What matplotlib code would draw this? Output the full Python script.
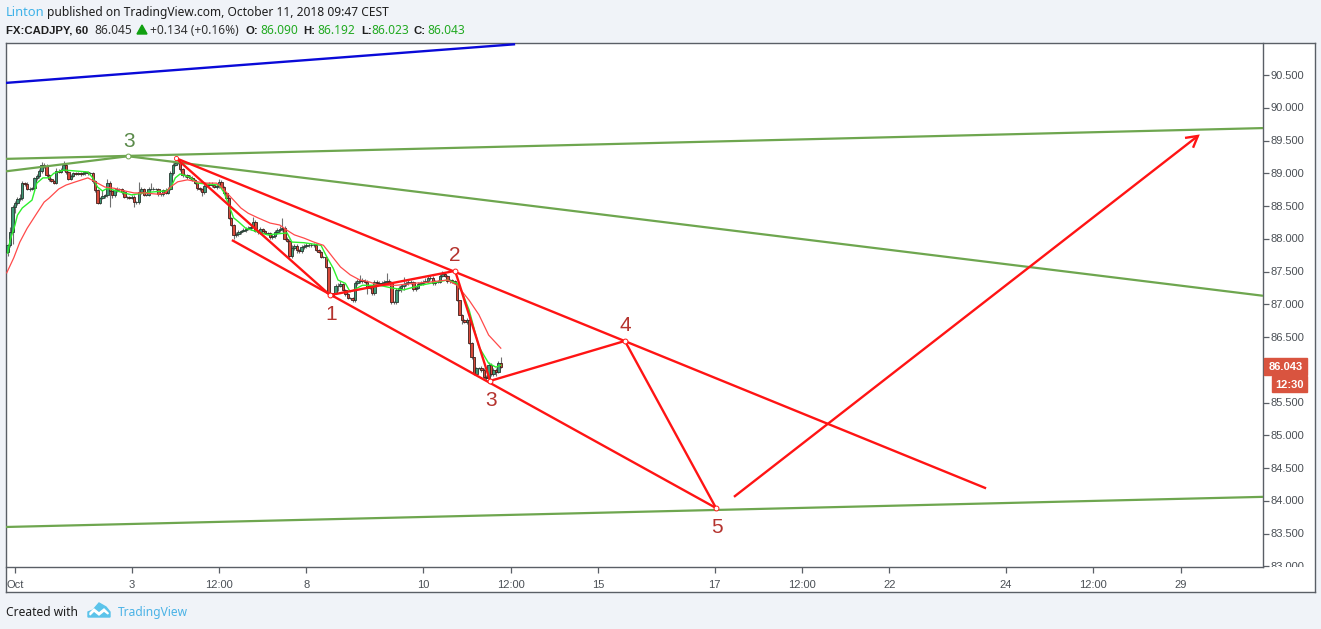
import matplotlib
matplotlib.use("Agg")
import matplotlib.pyplot as plt
import numpy as np
from matplotlib.patches import Rectangle, Polygon
from matplotlib.transforms import Bbox, TransformedBbox, ScaledTranslation

W, H = 1321, 629

closes = [87.90,88.10,88.48,88.55,88.61,88.62,88.85,88.84,88.76,88.76,
          88.77,88.93,88.96,89.03,89.13,89.11,88.97,88.91,88.88,88.85,
          89.03,89.02,89.05,89.13,89.02,88.91,88.96,89.00,88.99,89.00,
          88.99,89.00,89.02,89.00,89.00,88.88,88.74,88.55,88.62,88.65,
          88.67,88.85,88.73,88.67,88.74,88.76,88.76,88.71,88.64,88.64,
          88.62,88.64,88.56,88.56,88.71,88.76,88.67,88.67,88.76,88.76,
          88.76,88.76,88.68,88.68,88.74,88.70,88.76,89.00,89.13,89.16,
          89.16,89.06,88.97,88.97,88.94,88.93,88.90,88.85,88.77,88.76,
          88.71,88.81,88.82,88.84,88.82,88.79,88.81,88.87,88.79,88.70,
          88.62,88.32,88.21,88.06,88.07,88.10,88.12,88.13,88.15,88.16,
          88.18,88.26,88.12,88.10,88.15,88.12,88.09,88.09,88.03,88.04,
          88.10,88.13,88.15,88.16,88.00,87.97,87.74,87.86,87.89,87.83,
          87.81,87.87,87.89,87.90,87.90,87.90,87.90,87.83,87.80,87.72,
          87.72,87.57,87.17,87.14,87.17,87.28,87.28,87.31,87.22,87.16,
          87.10,87.10,87.06,87.32,87.35,87.37,87.35,87.34,87.25,87.28,
          87.17,87.34,87.32,87.31,87.32,87.34,87.35,87.34,87.03,87.03,
          87.22,87.25,87.28,87.31,87.32,87.34,87.34,87.23,87.25,87.31,
          87.32,87.34,87.35,87.40,87.40,87.32,87.34,87.34,87.43,87.46,
          87.43,87.35,87.37,87.35,87.32,87.06,86.84,86.76,86.73,86.76,
          86.41,86.19,85.94,86.03,86.03,86.00,85.89,85.87,86.07,85.94,
          86.00,85.97,86.10,86.04]
first_open = 87.80
wick_up = [2,8,4,3,3,6,3,2,2,3, 2,2,3,3,4,2,3,2,2,2, 5,3,3,6,3,1,3,2,2,2,
           2,3,2,2,2,2,2,2,2,10, 2,6,3,2,3,3,2,2,3,2, 2,3,3,2,15,3,2,2,3,9,
           3,2,2,2,2,3,3,3,3,5, 3,2,2,2,2,3,3,1,2,2, 2,2,2,2,3,2,3,5,2,1,
           2,2,1,2,3,3,2,3,3,3, 3,8,2,2,3,2,2,2,2,3, 3,3,4,16,4,2,2,4,3,3,
           2,3,3,3,3,3,4,3,2,2, 1,1,0,0,0,3,4,4,2,1, 1,1,1,3,3,8,3,3,3,2,
           2,3,3,3,3,3,12,3,2,2, 3,3,3,10,3,3,3,2,3,3, 3,3,5,5,5,3,3,3,3,5,
           3,2,2,2,2,2,1,1,1,3, 1,1,1,2,2,3,3,3,5,3, 2,2,3,9]
wick_down = [6,2,18,8,3,3,3,3,2,3, 2,4,3,3,2,3,2,3,2,2, 2,2,2,2,3,2,2,2,2,2,
             3,2,2,2,2,3,2,2,2,2, 2,3,24,4,3,3,3,2,2,3, 2,2,8,3,3,3,2,2,2,2,
             2,2,2,2,2,2,1,1,2,2, 2,3,3,2,2,2,2,2,3,3, 6,3,2,2,3,2,3,3,2,2,
             2,2,2,6,4,2,3,2,2,2, 2,2,2,3,3,2,2,3,3,3, 3,2,2,3,2,2,4,3,3,5,
             3,3,3,3,3,3,3,2,2,2, 2,2,2,3,3,2,8,2,2,3, 2,2,2,2,2,2,2,2,10,2,
             3,3,2,2,2,2,3,3,2,3, 2,2,6,6,3,3,3,2,2,2, 2,2,2,2,3,3,3,2,2,2,
             2,2,2,2,1,1,1,6,2,3, 2,2,2,1,2,3,4,4,2,3, 4,6,2,1]

slow_bar = [-0.4,2.5,5,8,12,15,17,21,24,28,33,37,40,44,47,52,56,62,65,67,70,74,78,82,86,88,91,93,96,99,
            103,108,112,115,118,122,126,130,134,137,141,145,149,153,160,167,174,181,185,190,194,198,203]
slow_val = [87.48,87.71,87.95,88.16,88.39,88.56,88.62,88.76,88.82,88.87,88.93,88.85,88.79,88.77,88.74,88.70,88.70,88.68,88.70,88.79,88.87,88.90,88.87,88.85,88.85,88.79,88.67,88.59,88.47,88.39,
            88.32,88.24,88.21,88.13,88.06,88.01,87.95,87.90,87.71,87.57,87.45,87.37,87.34,87.29,87.29,87.32,87.34,87.37,87.29,87.06,86.84,86.53,86.33]
fast_bar = [0,1,3,4,6,10,12,14.5,17,19,23,33,35,37,39,41,48,51,58,65,67,69,71,75,78,87,89,91,93,95,98,107,115,117,122,129,131,134,136,139,141,146,153,158,163,170,181,185,187,190,194,198,201,203]
fast_val = [87.78,87.98,88.21,88.36,88.47,88.59,88.85,88.93,88.93,89.00,89.05,89.02,88.93,88.79,88.73,88.77,88.70,88.67,88.71,88.73,88.77,88.93,88.99,88.94,88.85,88.82,88.71,88.52,88.32,88.26,88.16,88.06,88.09,87.95,87.94,87.90,87.75,87.55,87.37,87.32,87.19,87.29,87.29,87.25,87.22,87.29,87.37,87.32,87.19,86.91,86.35,86.10,86.04,86.07]

blue_bar, blue_val = [-0.7, 208.9], [90.38, 90.97]
green_a_bar, green_a_val = [-0.7, 516.8], [89.22, 89.69]
green_b_bar, green_b_val = [-0.7, 49.5, 516.8], [89.03, 89.26, 87.13]
green_c_bar, green_c_val = [-0.7, 516.8], [83.60, 84.06]
chan_top_bar, chan_top_val = [69.3, 402.8], [89.23, 84.19]
chan_low_bar, chan_low_val = [92.3, 291.6], [87.98, 83.89]
wave_bar = [69.3, 132.7, 184.2, 198.6, 254.1, 291.6]
wave_val = [89.23, 87.14, 87.51, 85.83, 86.44, 83.89]
arrow_bar = [299, 490]
arrow_val = [84.06, 89.57]
barb_bar = [484.7, 490, 488]
barb_val = [89.54, 89.57, 89.39]

price_ticks = [83.0,83.5,84.0,84.5,85.0,85.5,86.5,87.0,87.5,88.0,88.5,89.0,89.5,90.0,90.5]
time_ticks = [3,51,87,123,171,207,243,291,327,363,411,447,483]
time_labels = ["Oct","3","12:00","8","10","12:00","15","17","12:00","22","24","12:00","29"]

wave_labels = [("3",49.8,89.49,"#5a8a4a"),("1",133.3,86.84,"#b5332e"),("2",184.2,87.74,"#b5332e"),
               ("3",199,85.53,"#b5332e"),("4",254.1,86.68,"#b5332e"),("5",292,83.59,"#b5332e")]

RED, GRN = "#ff1414", "#6ea64f"
BORDER = "#5a5f66"
plt.rcParams['font.family'] = ['Liberation Sans', 'DejaVu Sans']

fig = plt.figure(figsize=(W/100, H/100), dpi=100, facecolor="#f0f3f8")

def box(x0, y0, x1, y1):
    return [x0/W, 1-y1/H, (x1-x0)/W, (y1-y0)/H]

panel = fig.add_axes(box(6, 43, 1315, 592), facecolor="white")
panel.set_xticks([]); panel.set_yticks([])
for s in panel.spines.values():
    s.set_color(BORDER); s.set_linewidth(1.0)

ax = fig.add_axes(box(6, 43, 1263, 567), facecolor="none")
ax.set_xlim(-0.70, 516.8)
ax.set_ylim(82.989, 90.989)
ax.spines['top'].set_visible(False)
ax.spines['left'].set_visible(False)
for s in ('right','bottom'):
    ax.spines[s].set_color(BORDER); ax.spines[s].set_linewidth(1.0)

c = np.array(closes)
o = np.r_[first_open, c[:-1]]
idx = np.arange(len(c))
hi = np.maximum(o, c) + np.array(wick_up)/100
lo = np.minimum(o, c) - np.array(wick_down)/100
up = c >= o
ax.vlines(idx, lo, hi, color="#707070", lw=0.8, zorder=2)
ax.bar(idx[up], (c-o)[up], bottom=o[up], width=1.0, color="#3f9a76", edgecolor="#26382f", lw=0.6, zorder=3)
ax.bar(idx[~up], (c-o)[~up], bottom=o[~up], width=1.0, color="#d8493a", edgecolor="#3f1f1b", lw=0.6, zorder=3)

ax.plot(fast_bar, fast_val, color="#2df02d", lw=1.0, zorder=4)
ax.plot(slow_bar, slow_val, color="#ff4a4a", lw=0.9, zorder=4)

kw = dict(solid_capstyle='butt', zorder=5)
ax.plot(blue_bar, blue_val, color="#0a0ad8", lw=1.7, **kw)
ax.plot(green_a_bar, green_a_val, color=GRN, lw=1.6, **kw)
ax.plot(green_b_bar, green_b_val, color=GRN, lw=1.6, **kw)
ax.plot(green_c_bar, green_c_val, color=GRN, lw=1.6, **kw)
ax.plot(chan_top_bar, chan_top_val, color=RED, lw=1.7, **kw)
ax.plot(chan_low_bar, chan_low_val, color=RED, lw=1.7, **kw)
ax.plot(wave_bar, wave_val, color=RED, lw=1.7, solid_joinstyle='miter', **kw)
ax.plot(arrow_bar, arrow_val, color=RED, lw=1.7, **kw)
ax.plot(barb_bar, barb_val, color=RED, lw=1.7, solid_joinstyle='miter', **kw)
ax.plot(wave_bar[1:], wave_val[1:], ls='none', marker='o', ms=3.5, mfc='white', mec=RED, mew=0.7, zorder=6)
ax.plot([wave_bar[0]], [wave_val[0]], ls='none', marker='o', ms=3, mfc='white', mec=RED, mew=0.6, zorder=6)
ax.plot([green_b_bar[1]], [green_b_val[1]], ls='none', marker='o', ms=3.5, mfc='white', mec=GRN, mew=0.7, zorder=6)

for t, xv, yv, col in wave_labels:
    ax.text(xv, yv, t, color=col, fontsize=15, ha='center', va='center', zorder=7)

ax.yaxis.tick_right()
ax.set_yticks(price_ticks)
ax.set_yticklabels([f"{v:.3f}" for v in price_ticks])
ax.set_xticks(time_ticks)
ax.set_xticklabels(time_labels)
ax.tick_params(axis='y', length=4, width=0.9, color=BORDER, labelcolor="#4a4f55", labelsize=8.0, pad=1.5)
ax.tick_params(axis='x', length=4, width=0.9, color=BORDER, labelcolor="#4a4f55", labelsize=8.0, pad=5)
clip = TransformedBbox(Bbox([[1263/W, 1-567/H], [1315/W, 1-43/H]]), fig.transFigure)
nudge = ScaledTranslation(0, 0.4/100, fig.dpi_scale_trans)
for lab in ax.get_yticklabels():
    lab.set_transform(lab.get_transform() + nudge)
    lab.set_clip_box(clip); lab.set_clip_on(True)

def ftext(x, y, s, **k):
    k.setdefault('va', 'baseline'); k.setdefault('ha', 'left')
    fig.text(x/W, 1-y/H, s, **k)

HF, FS = 'Noto Sans', 8.65
BF = dict(family='Liberation Sans', fontsize=8.2, weight='bold', color="#1e1e1e")
ftext(6, 16, "Linton", color="#3fb2e8", family=HF, fontsize=9.3)
ftext(47, 16, "published on TradingView.com, October 11, 2018 09:47 CEST", color="#1e1e1e", family=HF, fontsize=FS)
ftext(6, 33.5, "FX:CADJPY, 60", **BF)
ftext(94, 33.5, "86.045", color="#333333", family=HF, fontsize=FS)
fig.add_artist(Polygon([[137/W, 1-34/H], [147/W, 1-34/H], [142/W, 1-25/H]], closed=True,
                       transform=fig.transFigure, color="#11a011"))
ftext(150, 33.5, "+0.134 (+0.16%)", color="#333333", family=HF, fontsize=FS)
G = "#22aa22"
for lx, l, vx, v in [(246,"O:",260,"86.090"),(303,"H:",317,"86.192"),(361,"L:",371,"86.023"),(414,"C:",427,"86.043")]:
    ftext(lx, 33.5, l, **BF)
    ftext(vx, 33.5, v, color=G, family=HF, fontsize=FS)

ftext(6, 616, "Created with", color="#1e1e1e", family=HF, fontsize=FS)
ftext(118, 616, "TradingView", color="#4bb3e6", family=HF, fontsize=FS)
logo = [[88,617],[88,612],[93,610],[99,603],[106,607],[110,612],[110,617]]
fig.add_artist(Polygon([[x/W, 1-y/H] for x,y in logo], closed=True, transform=fig.transFigure, color="#5bc3ea"))
notch = [[90,613],[94,609],[99,613],[104,609],[108,613],[108,614],[104,611],[99,615],[94,611],[90,615]]
fig.add_artist(Polygon([[x/W, 1-y/H] for x,y in notch], closed=True, transform=fig.transFigure, color="white"))

LBL = "#d9543f"
fig.add_artist(Rectangle((1264/W, 1-375/H), 43/W, 17/H, transform=fig.transFigure, color=LBL))
fig.add_artist(Rectangle((1272/W, 1-392/H), 35/W, 16/H, transform=fig.transFigure, color=LBL))
ftext(1286, 370.5, "86.043", color="white", fontsize=8.0, weight='bold', ha='center', family='Liberation Sans')
ftext(1289, 388, "12:30", color="white", fontsize=8.0, weight='bold', ha='center', family='Liberation Sans')

fig.savefig("out.png", dpi=100, facecolor=fig.get_facecolor())
